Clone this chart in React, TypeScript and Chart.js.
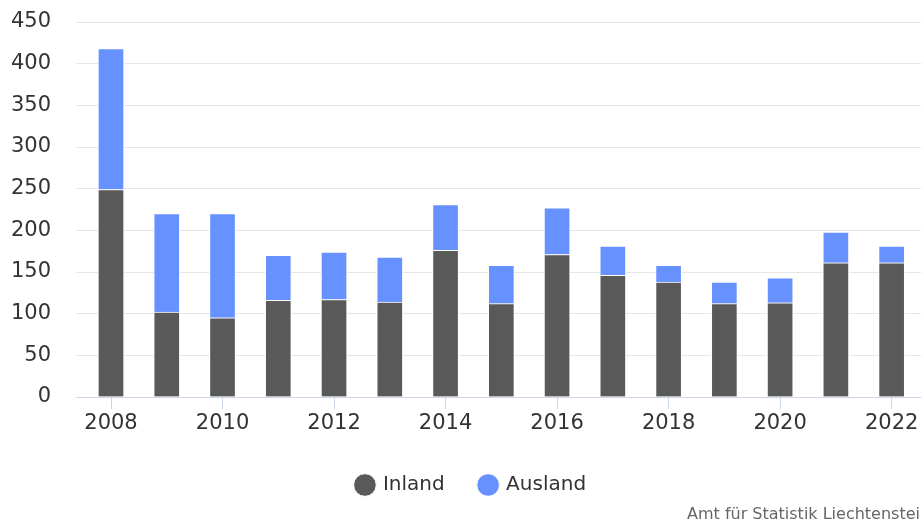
import React, { useEffect, useRef } from 'react';
import { Chart, registerables } from 'chart.js';

Chart.register(...registerables);

const years = [2008, 2009, 2010, 2011, 2012, 2013, 2014, 2015, 2016, 2017, 2018, 2019, 2020, 2021, 2022];
const inland = [249, 102, 95, 116, 117, 114, 176, 112, 171, 146, 138, 112, 113, 161, 161];
const ausland = [169, 118, 125, 54, 57, 54, 55, 46, 56, 35, 20, 26, 30, 37, 20];
const xTickYears = [2008, 2010, 2012, 2014, 2016, 2018, 2020, 2022];
const yTickValues = [0, 50, 100, 150, 200, 250, 300, 350, 400, 450];
const seriesNames = ['Inland', 'Ausland'];
const creditText = 'Amt für Statistik Liechtenstein';

const FONT = 'DejaVu Sans';
const CANVAS_W = 943;
const CANVAS_H = 519;
const PLOT_LEFT = 76;
const FIRST_CENTER = 111;
const STEP = 55.76;

const creditPlugin = {
  id: 'credit',
  afterDraw(chart: any) {
    const ctx = chart.ctx;
    ctx.save();
    ctx.font = `16px "${FONT}"`;
    ctx.fillStyle = '#666666';
    ctx.textAlign = 'left';
    ctx.textBaseline = 'alphabetic';
    ctx.fillText(creditText, 687, 518.5);
    ctx.restore();
  },
};

export default function App() {
  const ref = useRef<HTMLCanvasElement | null>(null);

  useEffect(() => {
    if (!ref.current) return;
    const xMin = years[0] - (FIRST_CENTER - PLOT_LEFT) / STEP;
    const xMax = years[0] + (CANVAS_W - FIRST_CENTER) / STEP;
    const chart = new Chart(ref.current, {
      type: 'bar',
      data: {
        labels: years,
        datasets: [
          {
            label: seriesNames[0],
            data: inland,
            backgroundColor: '#595959',
            borderColor: '#ffffff',
            borderWidth: 1,
            barThickness: 26,
          },
          {
            label: seriesNames[1],
            data: ausland,
            backgroundColor: '#6691ff',
            borderColor: '#ffffff',
            borderWidth: 1,
            barThickness: 26,
          },
        ],
      },
      options: {
        responsive: false,
        animation: false,
        devicePixelRatio: 1,
        layout: { padding: { top: 22, bottom: 14, left: 0, right: 0 } },
        plugins: {
          tooltip: { enabled: false },
          legend: {
            display: true,
            position: 'bottom',
            labels: {
              usePointStyle: true,
              pointStyle: 'circle',
              boxWidth: 16,
              boxHeight: 16,
              padding: 10,
              color: '#333333',
              font: { family: FONT, size: 20 },
              generateLabels: (c: any) => {
                const base = (Chart as any).defaults.plugins.legend.labels.generateLabels(c);
                return base.map((item: any, i: number) => ({
                  ...item,
                  text: i === 0 ? item.text + '    ' : item.text,
                }));
              },
            },
          },
        },
        scales: {
          x: {
            type: 'linear',
            stacked: true,
            offset: false,
            min: xMin,
            max: xMax,
            afterBuildTicks: (s: any) => {
              s.ticks = xTickYears.map((v) => ({ value: v }));
            },
            afterFit: (s: any) => {
              s.height = 68;
            },
            grid: {
              offset: false,
              drawOnChartArea: false,
              drawTicks: true,
              tickLength: 12,
              color: '#ccd6eb',
              lineWidth: 1,
            },
            border: { display: true, color: '#ccd6eb', width: 1 },
            ticks: {
              padding: 2,
              color: '#333333',
              font: { family: FONT, size: 21 },
              autoSkip: false,
              maxRotation: 0,
              callback: (v: any) => String(v),
            },
          },
          y: {
            type: 'linear',
            stacked: true,
            min: 0,
            max: 450,
            afterBuildTicks: (s: any) => {
              s.ticks = yTickValues.map((v) => ({ value: v }));
            },
            afterFit: (s: any) => {
              s.width = PLOT_LEFT;
              s.paddingTop = 0;
              s.paddingBottom = 0;
            },
            grid: { color: '#e6e6e6', lineWidth: 1, drawTicks: false },
            border: { display: false },
            ticks: {
              padding: 25,
              color: '#333333',
              font: { family: FONT, size: 21 },
              callback: (v: any) => String(v),
            },
          },
        },
      } as any,
      plugins: [creditPlugin],
    });
    return () => chart.destroy();
  }, []);

  return (
    <div
      style={{
        position: 'absolute',
        left: 0,
        top: 0,
        width: 921,
        height: 519,
        overflow: 'hidden',
        background: '#ffffff',
      }}
    >
      <canvas
        ref={ref}
        width={CANVAS_W}
        height={CANVAS_H}
        style={{ display: 'block', width: CANVAS_W, height: CANVAS_H }}
      />
    </div>
  );
}
